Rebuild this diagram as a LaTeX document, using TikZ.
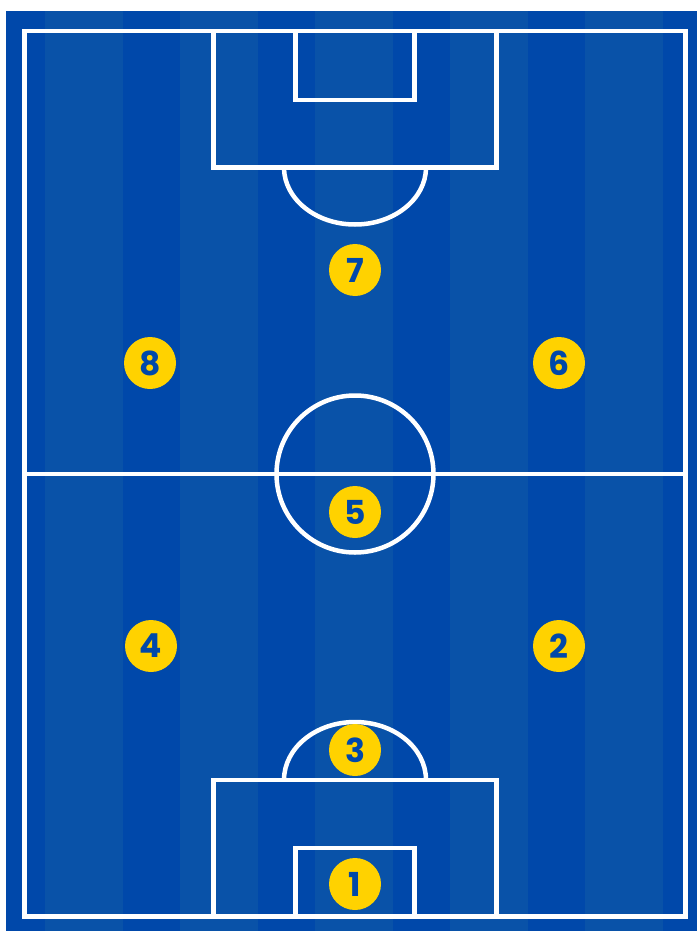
\documentclass[tikz,border=0pt]{standalone}
\usepackage{fontspec}
\newfontfamily\numfont{Poppins}
\usepackage{tikz}
\definecolor{pitchdark}{HTML}{0048AA}
\definecolor{pitchlight}{HTML}{0952A8}
\definecolor{shirt}{HTML}{FFD200}

\begin{document}
\begin{tikzpicture}[x=1pt,y=-1pt,
  line/.style={white,line width=4.5pt},
  player/.style={circle,fill=shirt,minimum size=52pt,inner sep=0pt,
    text=pitchdark,font=\numfont\bfseries\fontsize{33}{33}\selectfont}]
\fill[white] (0,0) rectangle (697,931);
\useasboundingbox (0,0) rectangle (697,931);

% grass
\fill[pitchdark] (6,11) rectangle (697,931);
\fill[pitchlight] (45,11) rectangle (123,931);
\fill[pitchlight] (180,11) rectangle (258,931);
\fill[pitchlight] (315,11) rectangle (393,931);
\fill[pitchlight] (450,11) rectangle (528,931);
\fill[pitchlight] (585,11) rectangle (663,931);

% markings
\draw[line] (24.5,31) rectangle (685.5,916.5);
\draw[line] (24.5,474) -- (685.5,474);
\draw[line] (355,474) circle (78.5);

\draw[line] (213.5,31) rectangle (496.5,167.5);
\draw[line] (295.5,31) rectangle (414.5,100);
\draw[line] (284,167.5) arc (180:0:71 and 57);

\draw[line] (213.5,780) rectangle (496.5,916.5);
\draw[line] (295.5,848) rectangle (414.5,916.5);
\draw[line] (284,780) arc (180:360:71 and 58);

% players
\node[player] (p7) at (355,270) {7};
\node[player] (p8) at (150,363) {8};
\node[player] (p6) at (559,363) {6};
\node[player] (p5) at (355,512) {5};
\node[player] (p4) at (151,646) {4};
\node[player] (p2) at (559,646) {2};
\node[player] (p3) at (355,750) {3};
\node[player] (p1) at (355,884) {1};
\end{tikzpicture}
\end{document}
